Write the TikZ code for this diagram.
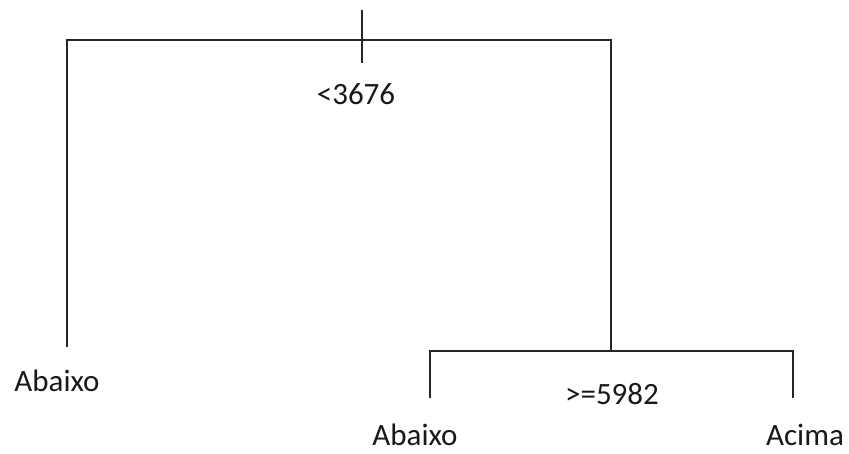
\documentclass[tikz,border=0pt]{standalone}
\usepackage{fontspec}
\setmainfont{Carlito}
\begin{document}
\begin{tikzpicture}[x=1pt,y=-1pt,
  branch/.style={line width=2pt, draw=black!85},
  lbl/.style={font=\fontsize{31}{37}\selectfont, text=black!90, inner sep=0pt, anchor=base}]
\useasboundingbox[fill=white] (0,0) rectangle (849,453);
% tree points
\coordinate (top) at (362,10);
\coordinate (split1) at (362,63);
\coordinate (h1l) at (67,40);
\coordinate (h1r) at (611,40);
\coordinate (leafA) at (67,347);
\coordinate (split2) at (611,351);
\coordinate (h2l) at (430,351);
\coordinate (h2r) at (793,351);
\coordinate (leafB) at (430,398);
\coordinate (leafC) at (793,398);
% branches
\draw[branch] (top) -- (split1);
\draw[branch] (leafA) -- (h1l) -- (h1r) -- (split2);
\draw[branch] (leafB) -- (h2l) -- (h2r) -- (leafC);
% labels
\node[lbl] (c1) at (356,104) {<3676};
\node[lbl] (la) at (57,391) {Abaixo};
\node[lbl] (c2) at (612,404) {>=5982};
\node[lbl] (lb) at (415,445) {Abaixo};
\node[lbl] (lc) at (805,445) {Acima};
\end{tikzpicture}
\end{document}
